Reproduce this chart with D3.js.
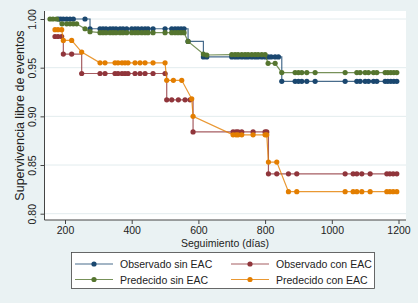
<!DOCTYPE html>
<html>
<head>
<meta charset="utf-8">
<script src="https://cdn.jsdelivr.net/npm/d3@7"></script>
<style>
  body { margin: 0; background: #eaf2f3; }
  svg { display: block; font-family: "Liberation Sans", Arial, sans-serif; }
</style>
</head>
<body>
<div id="chart"></div>
<script>
// Observado sin EAC (Kaplan-Meier, escalonado)
const obsSinDays = [180, 187, 195, 205, 215, 225, 260,
  275, 305, 314, 323, 335, 344, 353, 365, 374, 385, 400, 410, 419, 430, 440, 449, 464, 500, 520, 530, 539, 548, 557,
  569,
  615, 625, 700, 710, 719, 730, 740, 749, 760, 770, 779, 790, 800, 809, 818, 830, 840,
  850, 890, 900, 910, 925, 950, 1040, 1075, 1085, 1100, 1110, 1125, 1135, 1160, 1168, 1177, 1186, 1195];
const obsSinSurv = [1, 1, 1, 1, 1, 1, 1,
  0.990, 0.990, 0.990, 0.990, 0.990, 0.990, 0.990, 0.990, 0.990, 0.990, 0.990, 0.990, 0.990, 0.990, 0.990, 0.990, 0.990, 0.990, 0.990, 0.990, 0.990, 0.990, 0.990,
  0.977,
  0.961, 0.961, 0.961, 0.961, 0.961, 0.961, 0.961, 0.961, 0.961, 0.961, 0.961, 0.961, 0.961, 0.961, 0.961, 0.961, 0.961,
  0.936, 0.936, 0.936, 0.936, 0.936, 0.936, 0.936, 0.936, 0.936, 0.936, 0.936, 0.936, 0.936, 0.936, 0.936, 0.936, 0.936, 0.936];

// Observado con EAC
const obsConDays = [170, 179, 190, 195, 220, 250,
  305, 320, 350, 359, 371, 380, 389, 410, 425, 440, 464, 500,
  505, 520, 540, 560, 575,
  584, 704, 713, 719, 730, 764, 800, 805,
  810, 835, 870, 895, 1040, 1064, 1075, 1090, 1115, 1165, 1174, 1184, 1195];
const obsConSurv = [0.982, 0.982, 0.982, 0.964, 0.964, 0.944,
  0.944, 0.944, 0.944, 0.944, 0.944, 0.944, 0.944, 0.944, 0.944, 0.944, 0.944, 0.944,
  0.917, 0.917, 0.917, 0.917, 0.917,
  0.884, 0.884, 0.884, 0.884, 0.884, 0.884, 0.884, 0.884,
  0.841, 0.841, 0.841, 0.841, 0.841, 0.841, 0.841, 0.841, 0.841, 0.841, 0.841, 0.841, 0.841];

// Predecido sin EAC
const predSinDays = [155, 164, 175, 191, 205, 215, 225, 235, 260,
  275, 305, 314, 323, 335, 344, 353, 365, 374, 385, 400, 410, 419, 430, 440, 449, 464, 500, 520, 530, 539, 548, 557,
  569, 615, 625, 700, 710, 719, 730, 740, 749, 760, 770, 779, 790, 800,
  809, 830,
  850, 890, 900, 910, 925, 950, 1040, 1075, 1085, 1100, 1110, 1125, 1135, 1160, 1168, 1177, 1186, 1195];
const predSinSurv = [1, 1, 1, 0.995, 0.995, 0.995, 0.995, 0.995, 0.990,
  0.987, 0.986, 0.986, 0.986, 0.986, 0.986, 0.986, 0.986, 0.986, 0.986, 0.986, 0.986, 0.986, 0.986, 0.986, 0.986, 0.986, 0.986, 0.986, 0.986, 0.986, 0.986, 0.986,
  0.977, 0.964, 0.963, 0.9635, 0.9635, 0.9635, 0.9635, 0.9635, 0.9635, 0.9635, 0.9635, 0.9635, 0.9635, 0.9635,
  0.9545, 0.9545,
  0.945, 0.945, 0.945, 0.945, 0.945, 0.945, 0.945, 0.945, 0.945, 0.945, 0.945, 0.945, 0.945, 0.945, 0.945, 0.945, 0.945, 0.945];

// Predecido con EAC
const predConDays = [170, 179, 190, 195, 220, 250,
  305, 320, 350, 359, 371, 380, 389, 410, 425, 440, 464, 500,
  505, 525, 550, 580, 584,
  704, 713, 719, 730, 764, 800, 805,
  810, 835,
  870, 895, 1040, 1064, 1075, 1090, 1115, 1165, 1174, 1184, 1195];
const predConSurv = [0.989, 0.989, 0.989, 0.978, 0.978, 0.966,
  0.955, 0.955, 0.955, 0.955, 0.955, 0.955, 0.955, 0.955, 0.955, 0.955, 0.955, 0.955,
  0.937, 0.937, 0.937, 0.918, 0.900,
  0.881, 0.881, 0.881, 0.881, 0.881, 0.881, 0.881,
  0.853, 0.853,
  0.8226, 0.8226, 0.8226, 0.8226, 0.8226, 0.8226, 0.8226, 0.8226, 0.8226, 0.8226, 0.8226];

const xTicks = [200, 400, 600, 800, 1000, 1200];
const yTicks = [0.80, 0.85, 0.90, 0.95, 1.00];

const series = [
  {name: "Observado sin EAC", days: obsSinDays, surv: obsSinSurv, color: "#1a476f", step: true},
  {name: "Observado con EAC", days: obsConDays, surv: obsConSurv, color: "#90353b", step: true},
  {name: "Predecido sin EAC", days: predSinDays, surv: predSinSurv, color: "#55752f", step: false},
  {name: "Predecido con EAC", days: predConDays, surv: predConSurv, color: "#e37e00", step: false}
];

const W = 418, H = 303;
// plot region edges (px)
const plot = {left: 44.5, right: 406, top: 11, bottom: 220};

const svg = d3.select("#chart").append("svg")
  .attr("width", W)
  .attr("height", H);

svg.append("rect")
  .attr("width", W).attr("height", H)
  .attr("fill", "#eaf2f3");

svg.append("rect")
  .attr("x", plot.left).attr("y", plot.top)
  .attr("width", plot.right - plot.left)
  .attr("height", plot.bottom - plot.top)
  .attr("fill", "#ffffff");

const xScale = d3.scaleLinear().domain([200, 1200]).range([65, 398.5]);
const yScale = d3.scaleLinear().domain([0.80, 1.00]).range([213.7, 19]);

// gridlines
svg.append("g")
  .selectAll("line")
  .data(yTicks)
  .enter()
  .append("line")
    .attr("x1", plot.left)
    .attr("x2", plot.right)
    .attr("y1", d => yScale(d))
    .attr("y2", d => yScale(d))
    .attr("stroke", "#e3ecee")
    .attr("stroke-width", 1);

// axes
const yAxis = svg.append("g")
  .attr("transform", "translate(" + plot.left + ",0)")
  .call(d3.axisLeft(yScale).tickValues(yTicks).tickSize(4).tickFormat(d3.format(".2f")));
yAxis.select(".domain").remove();
yAxis.selectAll(".tick line").attr("stroke", "#444");
yAxis.selectAll(".tick text")
  .attr("transform", "rotate(-90)")
  .attr("x", 0)
  .attr("y", -9)
  .attr("dy", 0)
  .attr("text-anchor", "middle")
  .attr("font-size", "10.5px")
  .attr("fill", "#222");

const xAxis = svg.append("g")
  .attr("transform", "translate(0," + plot.bottom + ")")
  .call(d3.axisBottom(xScale).tickValues(xTicks).tickSize(4).tickFormat(d3.format("d")));
xAxis.select(".domain").remove();
xAxis.selectAll(".tick line").attr("stroke", "#444");
xAxis.selectAll(".tick text")
  .attr("y", 6.5)
  .attr("dy", "0.71em")
  .attr("font-size", "10.5px")
  .attr("fill", "#222");

svg.append("line")
  .attr("x1", plot.left).attr("x2", plot.left)
  .attr("y1", plot.top).attr("y2", plot.bottom)
  .attr("stroke", "#444");
svg.append("line")
  .attr("x1", plot.left).attr("x2", plot.right)
  .attr("y1", plot.bottom).attr("y2", plot.bottom)
  .attr("stroke", "#444");

// axis titles
svg.append("text")
  .attr("transform", "translate(24," + ((plot.top + plot.bottom) / 2 + 0) + ") rotate(-90)")
  .attr("text-anchor", "middle")
  .attr("font-size", "12.5px")
  .attr("fill", "#222")
  .text("Supervivencia libre de eventos");

svg.append("text")
  .attr("x", 225)
  .attr("y", 246.5)
  .attr("text-anchor", "middle")
  .attr("font-size", "10.5px")
  .attr("fill", "#222")
  .text("Seguimiento (días)");

// series
series.forEach(s => {
  const pts = s.days.map((d, i) => [d, s.surv[i]]);
  const line = d3.line()
    .x(d => xScale(d[0]))
    .y(d => yScale(d[1]))
    .curve(s.step ? d3.curveStepAfter : d3.curveLinear);

  const g = svg.append("g");
  g.append("path")
    .datum(pts)
    .attr("d", line)
    .attr("fill", "none")
    .attr("stroke", s.color)
    .attr("stroke-opacity", 0.8)
    .attr("stroke-width", 1.2);

  g.selectAll("circle")
    .data(pts)
    .enter()
    .append("circle")
      .attr("cx", d => xScale(d[0]))
      .attr("cy", d => yScale(d[1]))
      .attr("r", 2.6)
      .attr("fill", s.color);
});

// legend
const legend = svg.append("g");
legend.append("rect")
  .attr("x", 71.5).attr("y", 252.5)
  .attr("width", 303).attr("height", 36)
  .attr("fill", "#ffffff")
  .attr("stroke", "#444")
  .attr("stroke-width", 0.8);

const legendPos = [
  {x: 75, y: 264}, {x: 231, y: 264},
  {x: 75, y: 279.5}, {x: 231, y: 279.5}
];

series.forEach((s, i) => {
  const p = legendPos[i];
  legend.append("line")
    .attr("x1", p.x).attr("x2", p.x + 38)
    .attr("y1", p.y).attr("y2", p.y)
    .attr("stroke", s.color)
    .attr("stroke-opacity", 0.8)
    .attr("stroke-width", 1.2);
  legend.append("circle")
    .attr("cx", p.x + 19).attr("cy", p.y)
    .attr("r", 2.6)
    .attr("fill", s.color);
  legend.append("text")
    .attr("x", p.x + 45)
    .attr("y", p.y + 4)
    .attr("font-size", "10.5px")
    .attr("fill", "#222")
    .text(s.name);
});
</script>
</body>
</html>
